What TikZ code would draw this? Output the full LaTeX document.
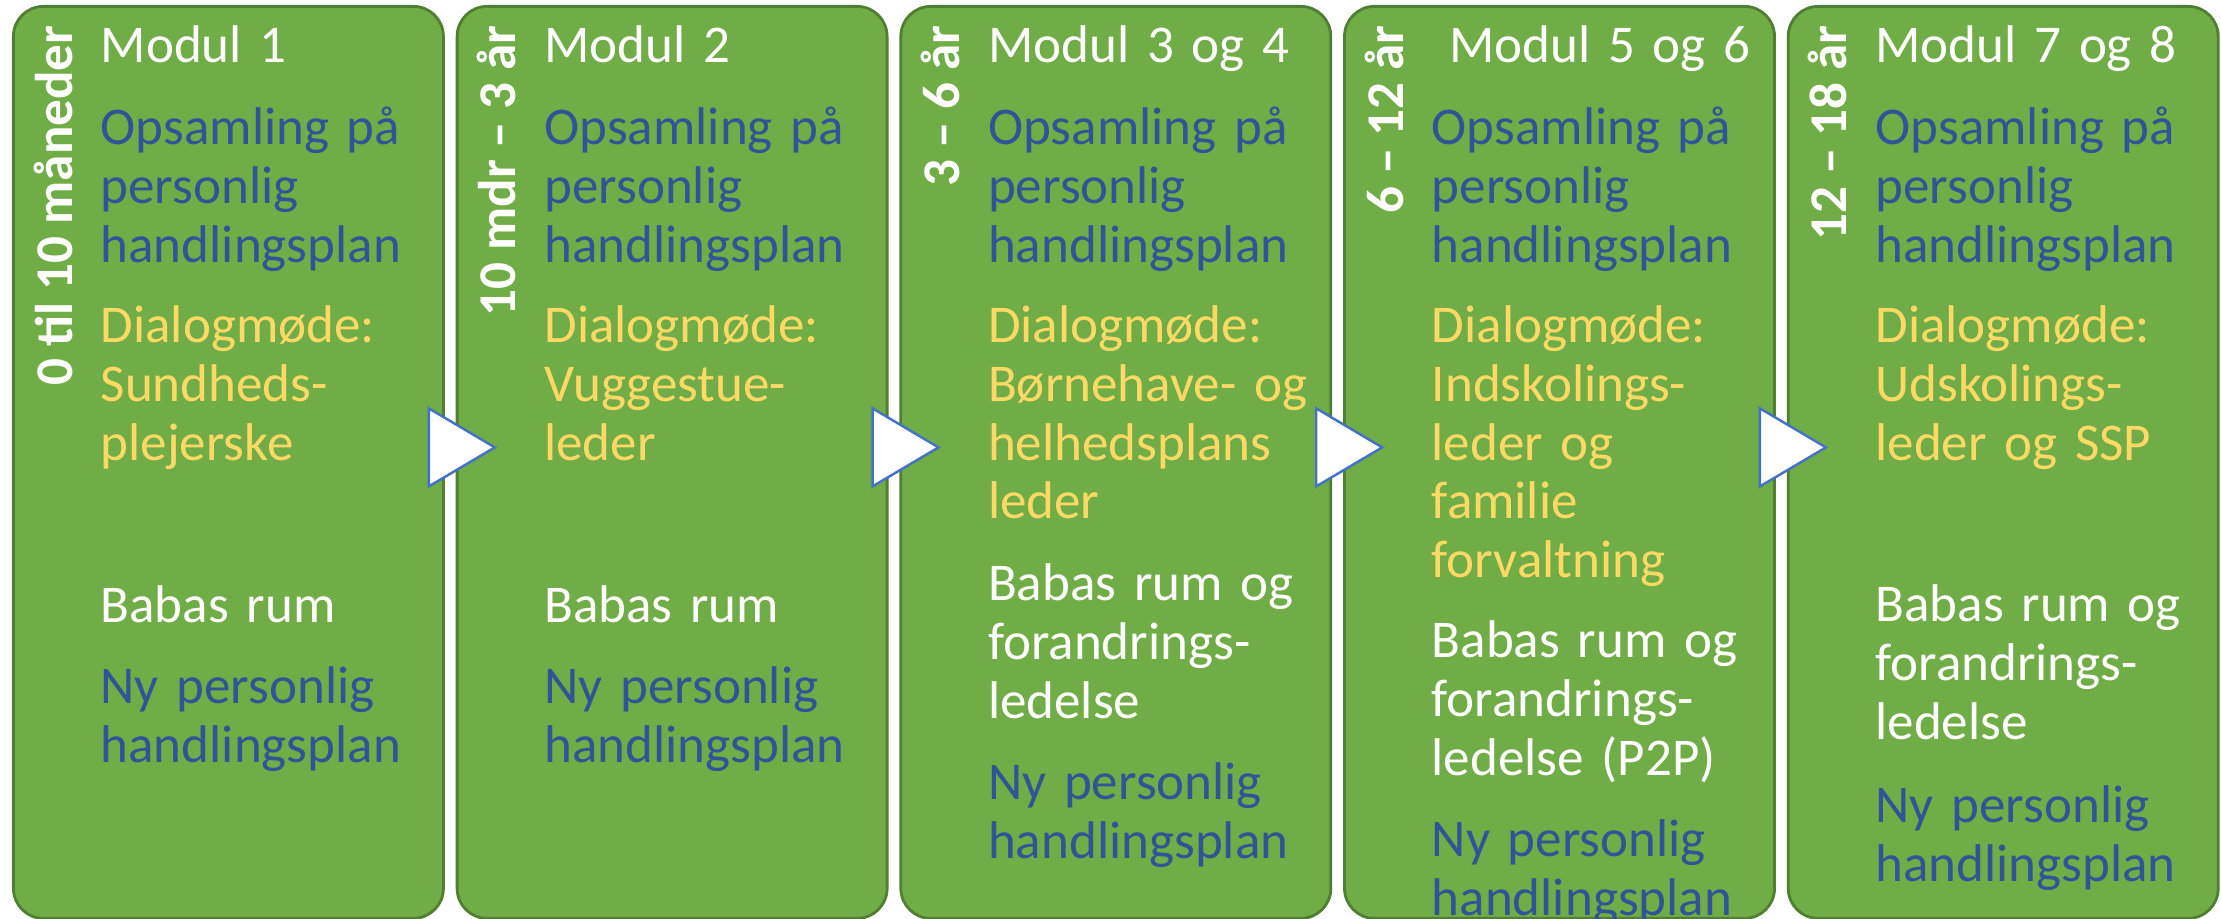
\documentclass[tikz,border=0pt]{standalone}
\usepackage{fontspec}
\setmainfont{Carlito}
\usetikzlibrary{calc}

\definecolor{modgreen}{HTML}{70AD47}
\definecolor{modedge}{HTML}{507E32}
\definecolor{txtblue}{HTML}{2F5597}
\definecolor{txtyellow}{HTML}{FFD966}
\definecolor{arrowblue}{HTML}{4472C4}

\tikzset{
  modbox/.style={draw=modedge, fill=modgreen, line width=0.8pt,
    rounded corners=0.3cm, minimum width=4.30cm, minimum height=9.12cm,
    inner sep=0pt},
  agelabel/.style={rotate=90, anchor=base east, inner sep=0pt, text=white,
    font=\fontsize{15.1}{16.6}\selectfont\bfseries},
  para/.style={anchor=base west, inner sep=0pt, text width=4.2cm,
    align=left, font=\fontsize{15.1}{16.65}\selectfont},
  nextarrow/.style={draw=arrowblue, fill=white, line width=0.7pt}
}

\begin{document}
\begin{tikzpicture}
  \useasboundingbox (0,0) rectangle (22.21,9.19);

  \def \Ages {
    1/{0 til 10 måneder},
    2/{10 mdr – 3 år},
    3/{3 – 6 år},
    4/{6 – 12 år},
    5/{12 – 18 år}}
  \def \Texts {
    1/0.63/white/{Modul 1},
    1/1.45/txtblue/{Opsamling på\\personlig\\handlingsplan},
    1/3.43/txtyellow/{Dialogmøde:\\Sundheds-\\plejerske},
    1/6.23/white/{Babas rum},
    1/7.04/txtblue/{Ny personlig\\handlingsplan},
    2/0.63/white/{Modul 2},
    2/1.45/txtblue/{Opsamling på\\personlig\\handlingsplan},
    2/3.43/txtyellow/{Dialogmøde:\\Vuggestue-\\leder},
    2/6.23/white/{Babas rum},
    2/7.04/txtblue/{Ny personlig\\handlingsplan},
    3/0.63/white/{Modul 3 og 4},
    3/1.45/txtblue/{Opsamling på\\personlig\\handlingsplan},
    3/3.43/txtyellow/{Dialogmøde:\\Børnehave- og\\helhedsplans\\leder},
    3/6.01/white/{Babas rum og\\forandrings-\\ledelse},
    3/8.00/txtblue/{Ny personlig\\handlingsplan},
    4/0.63/white/{\ Modul 5 og 6},
    4/1.45/txtblue/{Opsamling på\\personlig\\handlingsplan},
    4/3.43/txtyellow/{Dialogmøde:\\Indskolings-\\leder og\\familie\\forvaltning},
    4/6.58/white/{Babas rum og\\forandrings-\\ledelse (P2P)},
    4/8.57/txtblue/{Ny personlig\\handlingsplan},
    5/0.63/white/{Modul 7 og 8},
    5/1.45/txtblue/{Opsamling på\\personlig\\handlingsplan},
    5/3.43/txtyellow/{Dialogmøde:\\Udskolings-\\leder og SSP},
    5/6.22/white/{Babas rum og\\forandrings-\\ledelse},
    5/8.23/txtblue/{Ny personlig\\handlingsplan}}

  % module boxes with the age range turned on its side
  \foreach \b / \age in \Ages {
    \pgfmathsetmacro\bx{0.12+4.437*(\b-1)}
    \node[modbox, anchor=north west] (m\b) at (\bx, 9.14) {};
    \node[agelabel] (age\b) at (\bx+0.60, 8.94) {\age};
  }

  % arrows from one module to the next
  \foreach \i in {1,...,4} {
    \draw[nextarrow] ($(m\i.east)+(-0.16,0.54)$) -- ($(m\i.east)+(0.50,0.15)$)
      -- ($(m\i.east)+(-0.16,-0.24)$) -- cycle;
  }

  \foreach \b / \y / \c / \t [count=\k] in \Texts {
    \pgfmathsetmacro\bx{0.12+4.437*(\b-1)}
    \node[para, text=\c] (txt\k) at (\bx+0.88, 9.19-\y) {\t};
  }
\end{tikzpicture}
\end{document}
